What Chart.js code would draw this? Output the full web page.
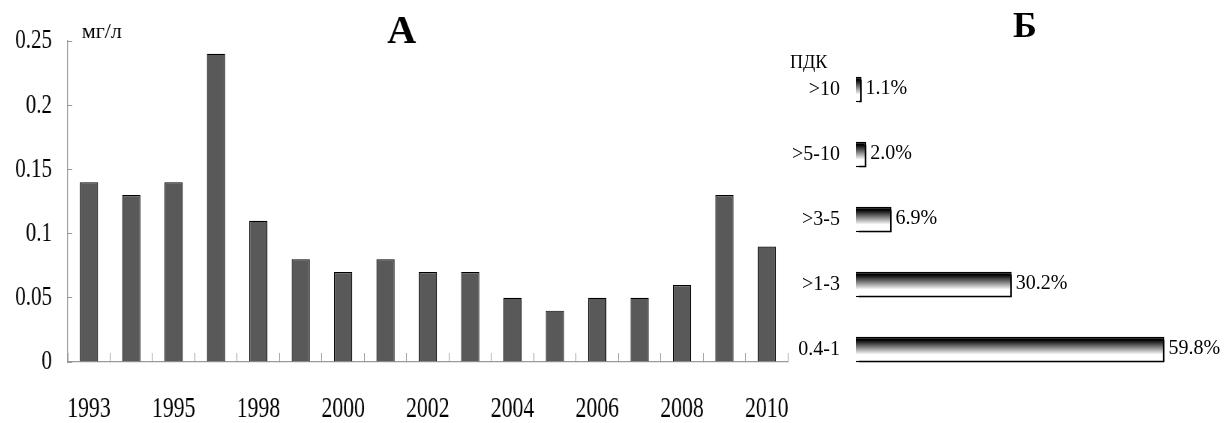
<!DOCTYPE html>
<html>
<head>
<meta charset="utf-8">
<script src="https://cdn.jsdelivr.net/npm/chart.js@4/dist/chart.umd.min.js"></script>
<style>
  html, body { margin: 0; padding: 0; background: #fff; }
  body { width: 1227px; height: 423px; position: relative; overflow: hidden; }
  #graphA { position: absolute; left: -5px; top: 0; transform: scaleX(0.75); transform-origin: 0 0; }
  #graphB { position: absolute; left: 784px; top: 0; }
</style>
</head>
<body>
<canvas id="graphA" width="1100" height="466"></canvas>
<canvas id="graphB" width="443" height="423"></canvas>
<script>
// Данные — график А (концентрация по годам, мг/л)
var annees = ['1993', '1994', '1995', '1997', '1998', '1999', '2000', '2001', '2002',
              '2003', '2004', '2005', '2006', '2007', '2008', '2009', '2010'];
var concentrations = [0.14, 0.13, 0.14, 0.24, 0.11, 0.08, 0.07, 0.08, 0.07,
                      0.07, 0.05, 0.04, 0.05, 0.05, 0.06, 0.13, 0.09];

// Данные — график Б (доля проб по кратности ПДК, %)
var classesPdk = ['>10', '>5-10', '>3-5', '>1-3', '0.4-1'];
var parts = [1.1, 2.0, 6.9, 30.2, 59.8];

var SCALE_X = 0.75;
var serif = "'Liberation Serif', 'Times New Roman', serif";

// texte du graphique A, dessiné sans la compression horizontale du canvas
var texteA = {
    id: 'texteA',
    afterDraw: function (chart) {
        var ctx = chart.ctx;
        var area = chart.chartArea;
        var left = area.left * SCALE_X;
        ctx.save();
        ctx.scale(1 / SCALE_X, 1);
        ctx.fillStyle = '#000';
        ctx.textBaseline = 'alphabetic';
        ctx.textAlign = 'left';
        ctx.font = '22px ' + serif;
        ctx.fillText('мг/л', left + 14, area.top - 3);
        ctx.textAlign = 'center';
        ctx.font = 'bold 40px ' + serif;
        ctx.fillText('А', left + 334, area.top + 2);
        ctx.restore();
    }
};

var ctxA = document.getElementById('graphA').getContext('2d');
new Chart(ctxA, {
    type: 'bar',
    data: {
        labels: annees,
        datasets: [{
            data: concentrations,
            backgroundColor: '#595959',
            borderColor: '#000',
            borderWidth: 1.2,
            barPercentage: 0.43,
            categoryPercentage: 1
        }]
    },
    options: {
        responsive: false,
        animation: false,
        devicePixelRatio: 1,
        layout: { padding: { top: 38, left: 0, right: 0, bottom: 0 } },
        scales: {
            x: {
                grid: { display: true, drawOnChartArea: false, drawTicks: true, tickLength: -9, color: '#9a9a9a', offset: true },
                border: { display: true, color: '#9a9a9a', width: 1.3 },
                ticks: {
                    autoSkip: false,
                    maxRotation: 0,
                    padding: 42,
                    color: '#000',
                    font: { family: serif, size: 29, lineHeight: 1 },
                    callback: function (value, index) {
                        return index % 2 === 0 ? annees[index] : '';
                    }
                }
            },
            y: {
                min: 0,
                max: 0.25,
                grid: { display: true, drawOnChartArea: false, drawTicks: true, tickLength: -6, color: '#9a9a9a' },
                border: { display: true, color: '#9a9a9a', width: 1.3 },
                ticks: {
                    stepSize: 0.05,
                    padding: 27,
                    color: '#000',
                    font: { family: serif, size: 28, lineHeight: 1 },
                    callback: function (value) {
                        return String(+value.toFixed(2));
                    }
                }
            }
        },
        plugins: {
            legend: { display: false },
            tooltip: { enabled: false }
        }
    },
    plugins: [texteA]
});

// graphique B : ombre portée, étiquettes de valeurs et titres
var ombreEtiquettes = {
    id: 'ombreEtiquettes',
    beforeDatasetsDraw: function (chart) {
        var ctx = chart.ctx;
        ctx.save();
        ctx.shadowColor = '#000';
        ctx.shadowOffsetX = 3;
        ctx.shadowOffsetY = 3;
        ctx.shadowBlur = 0;
    },
    afterDatasetsDraw: function (chart) {
        var ctx = chart.ctx;
        ctx.restore();
        var meta = chart.getDatasetMeta(0);
        ctx.save();
        ctx.fillStyle = '#000';
        ctx.font = '20px ' + serif;
        ctx.textAlign = 'left';
        ctx.textBaseline = 'middle';
        meta.data.forEach(function (bar, i) {
            ctx.fillText(parts[i].toFixed(1) + '%', bar.x + 4, bar.y - 1);
        });
        ctx.restore();
    },
    afterDraw: function (chart) {
        var ctx = chart.ctx;
        ctx.save();
        ctx.fillStyle = '#000';
        ctx.textBaseline = 'alphabetic';
        ctx.textAlign = 'left';
        ctx.font = '18px ' + serif;
        ctx.fillText('ПДК', 6, 68);
        ctx.textAlign = 'center';
        ctx.font = 'bold 36px ' + serif;
        ctx.fillText('Б', 241, 37);
        ctx.restore();
    }
};

function degrade(context) {
    var chart = context.chart;
    var y = chart.scales.y;
    if (!y || context.dataIndex === undefined || !chart.chartArea) {
        return '#808080';
    }
    var centre = y.getPixelForValue(context.dataIndex);
    var demi = (chart.chartArea.height / classesPdk.length) * 0.39 / 2;
    var g = chart.ctx.createLinearGradient(0, centre - demi, 0, centre + demi);
    g.addColorStop(0, '#000');
    g.addColorStop(0.12, '#000');
    g.addColorStop(0.7, '#fff');
    g.addColorStop(1, '#fff');
    return g;
}

var ctxB = document.getElementById('graphB').getContext('2d');
new Chart(ctxB, {
    type: 'bar',
    data: {
        labels: classesPdk,
        datasets: [{
            data: parts,
            backgroundColor: degrade,
            borderColor: '#000',
            borderWidth: 1.5,
            barPercentage: 0.39,
            categoryPercentage: 1
        }]
    },
    options: {
        indexAxis: 'y',
        responsive: false,
        animation: false,
        devicePixelRatio: 1,
        layout: { padding: { top: 57, left: 0, right: 10, bottom: 41 } },
        scales: {
            x: {
                display: false,
                min: 0,
                max: 70
            },
            y: {
                grid: { display: false },
                border: { display: false },
                ticks: {
                    padding: 8,
                    color: '#000',
                    font: { family: serif, size: 20 }
                }
            }
        },
        plugins: {
            legend: { display: false },
            tooltip: { enabled: false }
        }
    },
    plugins: [ombreEtiquettes]
});
</script>
</body>
</html>
